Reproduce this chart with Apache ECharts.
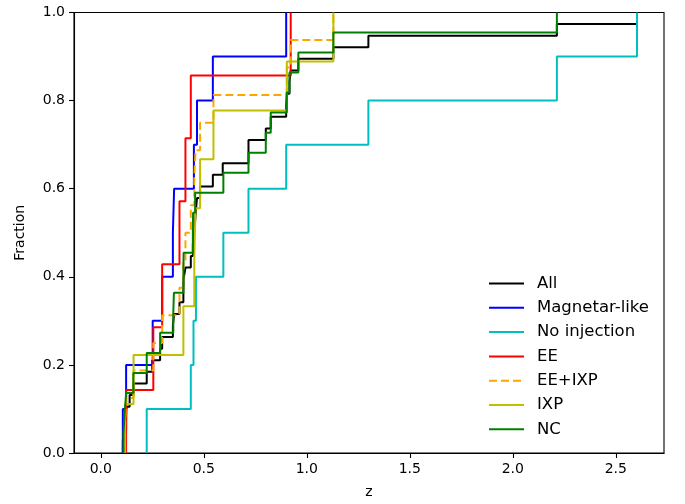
<!DOCTYPE html>
<html>
<head>
<meta charset="utf-8">
<script src="https://cdn.jsdelivr.net/npm/echarts@6/dist/echarts.min.js"></script>
<style>
html,body{margin:0;padding:0;background:#fff;}
#chart{width:685px;height:504px;}
</style>
</head>
<body>
<div id="chart"></div>
<script>
// Redshift values (z) of each sample, read from the step CDFs
const seriesNames = ['All', 'Magnetar-like', 'No injection', 'EE', 'EE+IXP', 'IXP', 'NC'];
const allZ = [0.107,0.110,0.123,0.125,0.140,0.159,0.223,0.250,0.288,0.298,0.350,0.356,0.382,0.401,0.402,0.411,0.437,0.447,0.452,0.458,0.462,0.467,0.482,0.544,0.592,0.717,0.717,0.801,0.825,0.900,0.903,0.916,0.922,0.959,1.129,1.299,2.214,2.603];
const magnetarZ = [0.107,0.123,0.252,0.298,0.350,0.356,0.452,0.467,0.544,0.900];
const noInjZ = [0.223,0.437,0.450,0.462,0.595,0.717,0.900,1.299,2.214,2.603];
const eeZ = [0.123,0.255,0.298,0.382,0.411,0.437,0.922];
const eeIxpZ = [0.118,0.123,0.159,0.255,0.298,0.382,0.401,0.411,0.437,0.454,0.460,0.482,0.547,0.903,0.922,1.129];
const ixpZ = [0.118,0.159,0.401,0.454,0.460,0.482,0.547,0.903,1.129];
const ncZ = [0.110,0.116,0.123,0.158,0.223,0.288,0.352,0.355,0.401,0.402,0.447,0.448,0.458,0.595,0.717,0.801,0.825,0.903,0.916,0.959,1.129,2.214];
const xTicks = [0, 0.5, 1.0, 1.5, 2.0, 2.5];

const zLists = [allZ, magnetarZ, noInjZ, eeZ, eeIxpZ, ixpZ, ncZ];
const colors = ['#000000', '#0000ff', '#00bfbf', '#ff0000', '#ffa500', '#bfbf00', '#008000'];

// empirical CDF points
function cdf(z) {
  const s = z.slice().sort((a, b) => a - b);
  const pts = [[s[0], 0]];
  s.forEach((v, i) => pts.push([v, (i + 1) / s.length]));
  return pts;
}

const font = 'DejaVu Sans';
const series = seriesNames.map((name, i) => ({
  name: name,
  type: 'line',
  step: 'end',
  symbol: 'none',
  data: cdf(zLists[i]),
  lineStyle: {
    color: colors[i],
    width: 2,
    type: name === 'EE+IXP' ? [8, 4] : 'solid',
    cap: 'butt'
  },
  itemStyle: { color: colors[i] },
  animation: false
}));

const chart = echarts.init(document.getElementById('chart'), null, { renderer: 'canvas' });
chart.setOption({
  animation: false,
  backgroundColor: '#ffffff',
  grid: {
    left: 74, right: 21, top: 12.5, bottom: 51,
    show: true, borderColor: '#000', borderWidth: 1.1, backgroundColor: 'transparent'
  },
  legend: {
    orient: 'vertical',
    left: 488,
    top: 275,
    padding: 0,
    itemWidth: 35,
    itemHeight: 16,
    itemGap: 7.3,
    itemStyle: { opacity: 0 },
    textStyle: { fontFamily: font, fontSize: 16.5, lineHeight: 16, color: '#000', padding: [0, 0, 0, 8] },
    data: seriesNames
  },
  xAxis: {
    type: 'value',
    min: -0.13,
    max: 2.734,
    name: 'z',
    nameLocation: 'middle',
    nameGap: 32,
    nameTextStyle: { fontFamily: font, fontSize: 14, color: '#000' },
    axisLine: { show: true, onZero: false, lineStyle: { color: '#000', width: 1.1 } },
    axisTick: { show: true, length: 5, lineStyle: { color: '#000', width: 1.1 }, customValues: xTicks },
    axisLabel: { fontFamily: font, fontSize: 14, color: '#000', margin: 9, customValues: xTicks,
      formatter: v => v.toFixed(1) },
    splitLine: { show: false }
  },
  yAxis: {
    type: 'value',
    min: 0,
    max: 1,
    interval: 0.2,
    name: 'Fraction',
    nameLocation: 'middle',
    nameGap: 47,
    nameTextStyle: { fontFamily: font, fontSize: 14, color: '#000' },
    axisLine: { show: true, onZero: false, lineStyle: { color: '#000', width: 1.1 } },
    axisTick: { show: true, length: 5, lineStyle: { color: '#000', width: 1.1 } },
    axisLabel: { fontFamily: font, fontSize: 14, color: '#000', margin: 9,
      formatter: v => v.toFixed(1) },
    splitLine: { show: false }
  },
  series: series
});
</script>
</body>
</html>
